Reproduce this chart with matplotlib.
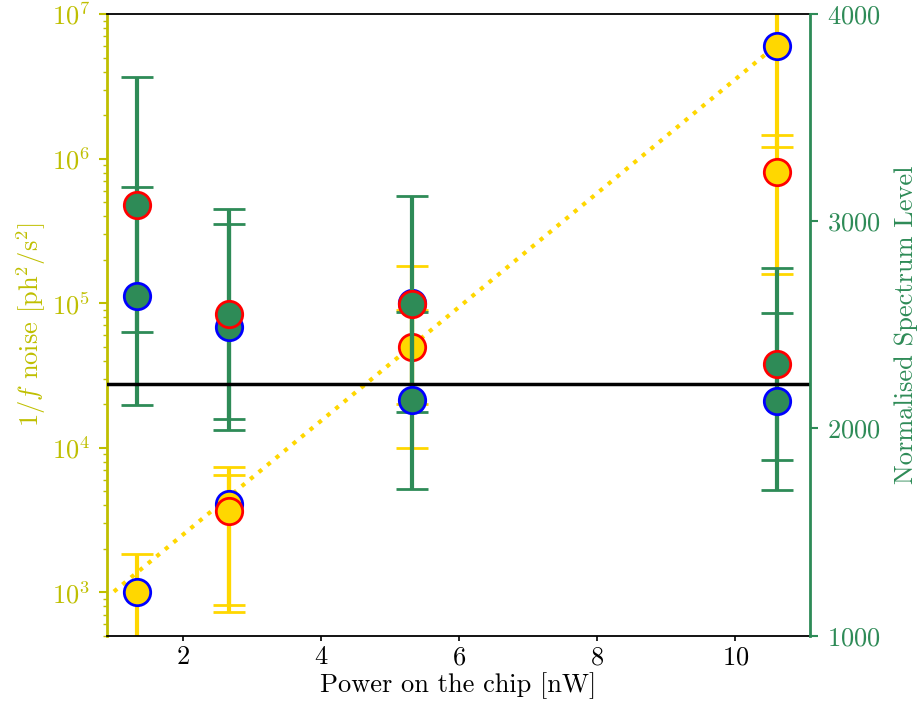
import numpy as np
import matplotlib
matplotlib.use("Agg")
import matplotlib.pyplot as plt

plt.rcParams['font.family'] = 'serif'
plt.rcParams['font.serif'] = ['cmr10']
plt.rcParams['mathtext.fontset'] = 'cm'
plt.rcParams['axes.formatter.use_mathtext'] = True
plt.rcParams['font.size'] = 19

# -----------------------------
# Data
# -----------------------------
power = [1.33, 2.66, 5.32, 10.6]          # nW

# 1/f noise, left (log) axis
noise_blue = [1000, 4050, 1.0e5, 6.0e6]
noise_blue_err = [840, 3320, 8.0e4, 4.8e6]
power_red = [2.66, 5.32, 10.6]
noise_red = [3640, 4.95e4, 8.1e5]
noise_red_err = [2830, 3.95e4, 6.5e5]

# exponential fit through the noise points (end points only)
fit_x = [1.0, 10.6]
fit_y = [1010, 6.1e6]

# normalised spectrum level, right axis
level_blue = [2640, 2490, 2136, 2131]
level_blue_err = [526, 497, 427, 427]
level_red = [3080, 2551, 2601, 2312]
level_red_err = [614, 507, 521, 463]
level_ref = 2215

gold = '#ffd700'
green = 'seagreen'
left_col = 'y'

fig, ax = plt.subplots(figsize=(9.2, 7.22), dpi=100)
fig.subplots_adjust(left=0.1163, right=0.8804, bottom=0.1195, top=0.9806)

style = dict(fmt='o', ms=19, mew=2, elinewidth=3, capsize=11.5, capthick=2)

ax.errorbar(power, noise_blue, yerr=noise_blue_err, color=gold, ecolor=gold,
            mfc=gold, mec='blue', **style)
ax.errorbar(power_red, noise_red, yerr=noise_red_err, color=gold, ecolor=gold,
            mfc=gold, mec='red', **style)
ax.plot(fit_x, fit_y, ':', color=gold, lw=3)

ax.set_yscale('log')
ax.set_ylim(500, 1e7)
ax.set_xlim(0.9, 11.08)
ax.set_xlabel('Power on the chip [nW]', labelpad=2)
ax.set_ylabel('$1/f$ noise [ph$^2$/s$^2$]', color=left_col, labelpad=3)
ax.tick_params(axis='y', which='major', colors=left_col, length=6, width=1.5, pad=6)
ax.tick_params(axis='y', which='minor', colors=left_col, length=3, width=1)
ax.tick_params(axis='x', length=3.5, width=1.2)
ax.spines['left'].set_color(left_col)
ax.spines['left'].set_linewidth(2)
ax.spines['right'].set_visible(False)
for s in ['top', 'bottom']:
    ax.spines[s].set_linewidth(1.3)

ax2 = ax.twinx()
ax2.errorbar(power, level_blue, yerr=level_blue_err, color=green, ecolor=green,
             mfc=green, mec='blue', **style)
ax2.errorbar(power, level_red, yerr=level_red_err, color=green, ecolor=green,
             mfc=green, mec='red', **style)
ax2.axhline(level_ref, color='black', lw=2.5)
ax2.set_ylim(1000, 4000)
ax2.set_yticks([1000, 2000, 3000, 4000])
ax2.set_ylabel('Normalised Spectrum Level', color=green, labelpad=10)
ax2.tick_params(axis='y', colors=green, length=6, width=1.5, pad=6)
ax2.spines['right'].set_color(green)
ax2.spines['right'].set_linewidth(2)
for s in ['left', 'top', 'bottom']:
    ax2.spines[s].set_visible(False)

fig.savefig('out.png', dpi=100)
